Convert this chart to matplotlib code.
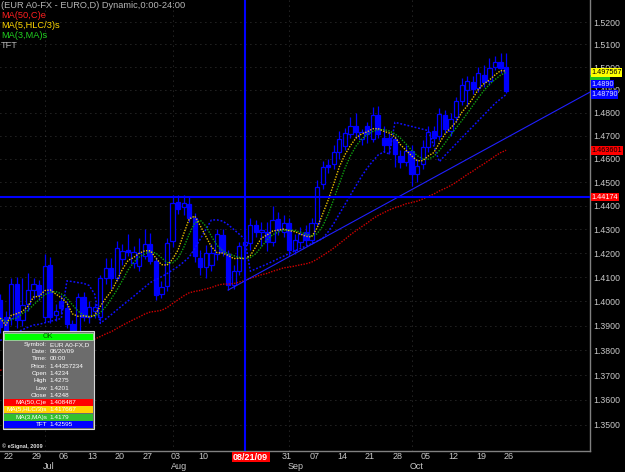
import matplotlib
matplotlib.use('Agg')
import matplotlib.pyplot as plt
import matplotlib.transforms as mtransforms
from matplotlib.patches import Rectangle
from matplotlib.ticker import NullLocator, FixedLocator, FuncFormatter
import numpy as np
import pandas as pd

# daily bars, bar 0 = Mon 22 Jun 2009 (bar -1 is Fri 19 Jun), last = Mon 26 Oct
bar_idx = np.arange(-1, 91)
opens = [1.4007, 1.3937, 1.3930, 1.4072, 1.3923, 1.3990, 1.4049, 1.4068, 1.3937, 1.4149,
         1.3944, 1.4000, 1.3972, 1.3909, 1.3853, 1.4018, 1.3937, 1.3962, 1.3937, 1.4095,
         1.4138, 1.4097, 1.4174, 1.4212, 1.4160, 1.4146, 1.4188, 1.4237, 1.4167, 1.4032,
         1.4063, 1.4251, 1.4416, 1.4393, 1.4409, 1.4349, 1.4181, 1.4144, 1.4149, 1.4195,
         1.4276, 1.4197, 1.4068, 1.4127, 1.4234, 1.4242, 1.4319, 1.4290, 1.4289, 1.4245,
         1.4344, 1.4290, 1.4329, 1.4213, 1.4245, 1.4289, 1.4255, 1.4329, 1.4491, 1.4573,
         1.4577, 1.4628, 1.4657, 1.4708, 1.4741, 1.4686, 1.4741, 1.4686, 1.4790, 1.4690,
         1.4689, 1.4686, 1.4614, 1.4585, 1.4635, 1.4534, 1.4577, 1.4650, 1.4722, 1.4700,
         1.4790, 1.4722, 1.4780, 1.4852, 1.4900, 1.4935, 1.4906, 1.4964, 1.4939, 1.5001,
         1.5023, 1.5001]
highs = [1.4030, 1.3960, 1.4095, 1.4100, 1.4097, 1.4118, 1.4095, 1.4090, 1.4195, 1.4185,
         1.3990, 1.4025, 1.4000, 1.3925, 1.4035, 1.4040, 1.4000, 1.3995, 1.4110, 1.4180,
         1.4180, 1.4251, 1.4240, 1.4280, 1.4230, 1.4265, 1.4300, 1.4285, 1.4185, 1.4085,
         1.4265, 1.4446, 1.4446, 1.4446, 1.4440, 1.4370, 1.4215, 1.4235, 1.4240, 1.4300,
         1.4300, 1.4215, 1.4150, 1.4245, 1.4275, 1.4350, 1.4340, 1.4330, 1.4330, 1.4400,
         1.4375, 1.4360, 1.4350, 1.4280, 1.4310, 1.4320, 1.4350, 1.4510, 1.4590, 1.4600,
         1.4660, 1.4720, 1.4735, 1.4780, 1.4800, 1.4730, 1.4760, 1.4823, 1.4830, 1.4740,
         1.4710, 1.4700, 1.4640, 1.4660, 1.4660, 1.4600, 1.4680, 1.4740, 1.4740, 1.4820,
         1.4810, 1.4800, 1.4870, 1.4950, 1.4960, 1.4960, 1.5000, 1.5010, 1.5040, 1.5050,
         1.5060, 1.5062]
lows = [1.3870, 1.3820, 1.3905, 1.3890, 1.3900, 1.3960, 1.4010, 1.4005, 1.3915, 1.3910,
        1.3920, 1.3950, 1.3890, 1.3820, 1.3830, 1.3920, 1.3910, 1.3930, 1.3920, 1.4070,
        1.4050, 1.4085, 1.4150, 1.4190, 1.4140, 1.4125, 1.4175, 1.4155, 1.4005, 1.4015,
        1.4045, 1.4225, 1.4365, 1.4360, 1.4330, 1.4165, 1.4110, 1.4095, 1.4125, 1.4170,
        1.4190, 1.4047, 1.4050, 1.4110, 1.4201, 1.4215, 1.4270, 1.4230, 1.4210, 1.4230,
        1.4275, 1.4270, 1.4190, 1.4195, 1.4225, 1.4235, 1.4240, 1.4315, 1.4470, 1.4540,
        1.4555, 1.4600, 1.4640, 1.4690, 1.4690, 1.4660, 1.4670, 1.4671, 1.4690, 1.4630,
        1.4620, 1.4563, 1.4560, 1.4570, 1.4483, 1.4500, 1.4555, 1.4630, 1.4660, 1.4680,
        1.4710, 1.4700, 1.4760, 1.4835, 1.4830, 1.4880, 1.4890, 1.4910, 1.4920, 1.4985,
        1.4975, 1.4888]
closes = [1.3895, 1.3839, 1.4072, 1.3923, 1.3986, 1.4049, 1.4072, 1.4028, 1.4146, 1.3937,
          1.3961, 1.3972, 1.3909, 1.3839, 1.4018, 1.3937, 1.3976, 1.3976, 1.4097, 1.4139,
          1.4097, 1.4220, 1.4209, 1.4205, 1.4205, 1.4200, 1.4240, 1.4167, 1.4028, 1.4060,
          1.4244, 1.4411, 1.4386, 1.4411, 1.4349, 1.4188, 1.4144, 1.4199, 1.4202, 1.4279,
          1.4205, 1.4068, 1.4127, 1.4230, 1.4248, 1.4319, 1.4289, 1.4296, 1.4245, 1.4340,
          1.4298, 1.4329, 1.4213, 1.4255, 1.4280, 1.4255, 1.4329, 1.4481, 1.4563, 1.4566,
          1.4628, 1.4686, 1.4710, 1.4744, 1.4715, 1.4715, 1.4708, 1.4790, 1.4708, 1.4660,
          1.4660, 1.4621, 1.4585, 1.4635, 1.4534, 1.4570, 1.4650, 1.4718, 1.4689, 1.4794,
          1.4729, 1.4773, 1.4852, 1.4920, 1.4939, 1.4903, 1.4975, 1.4932, 1.4997, 1.5023,
          1.4994, 1.4896]
tft = [1.3840, 1.3850, 1.3862, 1.3873, 1.3884, 1.3894, 1.3903, 1.3906, 1.3912, 1.3918,
       1.3924, 1.3930, 1.4085, 1.4082, 1.4078, 1.4075, 1.4066, 1.4030, 1.3910, 1.3928,
       1.3946, 1.3965, 1.3984, 1.4002, 1.4021, 1.4040, 1.4059, 1.4078, 1.4090, 1.4102,
       1.4115, 1.4130, 1.4145, 1.4163, 1.4184, 1.4220, 1.4260, 1.4300, 1.4340, 1.4340,
       1.4335, 1.4320, 1.4300, 1.4280, 1.42595, 1.4125, 1.4135, 1.4145, 1.4155, 1.4166,
       1.4177, 1.4188, 1.4199, 1.4210, 1.4220, 1.4230, 1.4240, 1.4250, 1.4262, 1.4290,
       1.4325, 1.4365, 1.4405, 1.4445, 1.4485, 1.4525, 1.4560, 1.4590, 1.4617, 1.4630,
       1.4621, 1.4758, 1.4752, 1.4746, 1.4740, 1.4734, 1.4728, 1.4722, 1.4655, 1.4588,
       1.4615, 1.4640, 1.4665, 1.4690, 1.4715, 1.4740, 1.4765, 1.4790, 1.4815, 1.4840,
       1.4860, 1.4879]
ema_seed = 1.3712

week_ticks = list(range(0, 91, 5))
week_labels = ['22', '29', '06', '13', '20', '27', '03', '10', '17', '24',
               '31', '07', '14', '21', '28', '05', '12', '19', '26']
month_ticks = [7, 30, 51, 73]
month_labels = ['Jul', 'Aug', 'Sep', 'Oct']
price_ticks = np.round(np.arange(1.35, 1.5201, 0.01), 2)

cursor_bar = 43
cursor_price = 1.44357234
cursor_tag = '08/21/09'
trend_x = [40, 105.1]
trend_y = [1.4047, 1.4890]

legend_lines = [('(EUR A0-FX - EURO,D) Dynamic,0:00-24:00', '#b4b4b4'),
                ('MA(50,C)e', '#ff2020'),
                ('MA(5,HLC/3)s', '#ffd700'),
                ('MA(3,MA)s', '#20d020'),
                ('TFT', '#b4b4b4')]
info_rows = [('Symbol:', 'EUR A0-FX,D'), ('Date:', '08/20/09'), ('Time:', '00:00'),
             ('Price:', '1.44357234'), ('Open', '1.4234'), ('High', '1.4275'),
             ('Low', '1.4201'), ('Close', '1.4248')]
info_bars = [('MA(50,C)e', '1.408487', '#ff0000'),
             ('MA(5,HLC/3)s', '1.417667', '#ffd200'),
             ('MA(3,MA)s', '1.4179', '#30c030'),
             ('TFT', '1.42595', '#0000ff')]
# (text, price, box colour, text colour, shift in px)
axis_tags = [('1.497567', 1.497567, '#ffff00', '#000000', 0),
             ('1.4890', 1.4890, '#0000ff', '#e0e0ff', 8),
             ('1.48790', 1.4879, '#0000ff', '#e0e0ff', 0),
             ('1.463601', 1.463601, '#ff0000', '#000000', 0),
             ('1.44174', cursor_price, '#ff0000', '#ffffff', 0)]
ma3_tag_price = 1.4955

BLUE = '#0000ff'
W, H = 625, 472

plt.rcParams['font.family'] = ['Liberation Sans', 'DejaVu Sans']

o = np.array(opens); h = np.array(highs); l = np.array(lows); c = np.array(closes)

# indicators computed from the bars
ema = []
e = ema_seed
for v in c:
    e = e + 2.0 / 51 * (v - e)
    ema.append(e)
typ = pd.Series((h + l + c) / 3)
ma5 = typ.rolling(5, min_periods=1).mean()
ma3 = ma5.rolling(3, min_periods=1).mean()


def fpx(x, y):
    # figure pixel -> figure fraction
    return x / W, 1 - y / H


def bar_px(i):
    # bar index -> figure pixel x
    return 5.7 + 5.56 * i


fig = plt.figure(figsize=(W / 100, H / 100), dpi=100, facecolor='black')
ax = fig.add_axes([0, 21 / H, 590 / W, 451 / H], facecolor='black')
ax.set_yscale('log')
ax.set_ylim(1.3397, 1.5299)
ax.set_xlim(-1.03, 105.09)

# grid
for p in price_ticks:
    ax.axhline(p, color='#4a4a4a', lw=0.6, ls=(0, (1, 5)), zorder=0)
for m in month_ticks:
    ax.axvline(m, color='#4a4a4a', lw=0.6, ls=(0, (1, 5)), zorder=0)

# candles
up = c >= o
top = np.maximum(o, c)
bot = np.minimum(o, c)
ax.vlines(bar_idx, top, h, color=BLUE, lw=0.9, zorder=2)
ax.vlines(bar_idx, l, bot, color=BLUE, lw=0.9, zorder=2)
body = np.maximum(top - bot, 0.00025)
ax.bar(bar_idx[up], body[up], bottom=bot[up], width=0.76, facecolor='black',
       edgecolor=BLUE, linewidth=0.9, zorder=2)
ax.bar(bar_idx[~up], body[~up], bottom=bot[~up], width=0.76, facecolor=BLUE,
       edgecolor=BLUE, linewidth=0.9, zorder=2)

# indicators
ax.plot(bar_idx, ema, color='#d00000', lw=1.0, ls=(0, (1, 1)), zorder=3)
ax.plot(bar_idx, tft, color='#1010ff', lw=1.1, ls=(0, (1.2, 1.2)), zorder=3)
ax.plot(bar_idx, ma3, color='#10a010', lw=1.0, ls=(0, (1, 1)), zorder=3)
ax.plot(bar_idx, ma5, color='#e8c000', lw=1.0, ls=(0, (1, 1)), zorder=3)
ax.plot(trend_x, trend_y, color='#2020ff', lw=0.8, zorder=3)

# crosshair
ax.axvline(cursor_bar, color=BLUE, lw=1.5, zorder=4)
ax.axhline(cursor_price, color=BLUE, lw=1.5, zorder=4)

# frame
for side in ['top', 'left']:
    ax.spines[side].set_visible(False)
for side in ['right', 'bottom']:
    ax.spines[side].set_color('#808080')
    ax.spines[side].set_linewidth(1.0)

# price axis
ax.yaxis.tick_right()
ax.yaxis.set_major_locator(FixedLocator(price_ticks))
ax.yaxis.set_minor_locator(NullLocator())
ax.yaxis.set_major_formatter(FuncFormatter(lambda v, pos: '%.4f' % v))
ax.tick_params(axis='y', length=0, pad=2.2, labelsize=6.3, labelcolor='#c8c8c8')
ax.set_xticks([])

# MA(3) tag sits under the MA(5) tag, only its lower edge shows
ax.add_patch(Rectangle((1.0, ma3_tag_price - 0.0012), 0.034, 0.0024,
                       transform=ax.get_yaxis_transform(), fc='#20c020', ec='none',
                       clip_on=False, zorder=5))
for txt, p, fc, tc, dy in axis_tags:
    tr = mtransforms.offset_copy(ax.get_yaxis_transform(), fig=fig, x=1.0, y=dy * 0.72,
                                 units='points')
    ax.text(1.0, p, txt, transform=tr, ha='left', va='center', fontsize=5.2,
            color=tc, clip_on=False, zorder=6,
            bbox=dict(boxstyle='square,pad=0.08', fc=fc, ec='none'))

# cursor date tag
tag_l, tag_r = 231.5, 269.5
x0, y0 = fpx(tag_l, 462)
fig.add_artist(Rectangle((x0, y0), (tag_r - tag_l) / W, 10 / H, transform=fig.transFigure,
                         fc='#ff0000', ec='none', zorder=5))
fig.text(*fpx((tag_l + tag_r) / 2, 457), cursor_tag, ha='center', va='center',
         fontsize=6.5, fontweight='bold', color='white', zorder=6)

# date axis (labels under the cursor tag are hidden, as in the chart)
xt = ax.get_xaxis_transform()
for t, lab in zip(week_ticks, week_labels):
    if tag_l - 8 < bar_px(t + 0.5) < tag_r + 8:
        continue
    ax.text(t + 0.5, -5.7 / 451, lab, transform=xt, ha='center', va='center',
            fontsize=6.5, color='#c8c8c8', clip_on=False)
for t, lab in zip(month_ticks, month_labels):
    ax.text(t - 0.3, -15.7 / 451, lab, transform=xt, ha='left', va='center',
            fontsize=6.5, color='#c8c8c8', clip_on=False)

# legend text, top left
for k, (txt, col) in enumerate(legend_lines):
    fig.text(*fpx(1, 6 + 9.9 * k), txt, ha='left', va='center', fontsize=6.7,
             color=col, zorder=6)

fig.text(*fpx(2, 446.5), '\u00a9 eSignal, 2009', ha='left', va='center', fontsize=4,
         fontweight='bold', color='#e0e0e0', zorder=6)

# cursor info window
bx, by = fpx(2.5, 429)
fig.add_artist(Rectangle((bx, by), 91.5 / W, 98 / H, transform=fig.transFigure,
                         fc='#6c6c6c', ec='#d8d8d8', lw=0.8, zorder=5))
gx, gy = fpx(4, 339.5)
fig.add_artist(Rectangle((gx, gy), 88.5 / W, 7 / H, transform=fig.transFigure,
                         fc='#00ff00', ec='#e0e0e0', lw=0.4, zorder=6))
fig.text(*fpx(48, 336), 'OK', ha='center', va='center', fontsize=5.2,
         color='#006000', zorder=7)
for k, (lab, val) in enumerate(info_rows):
    yy = 344.3 + 7.3 * k
    fig.text(*fpx(47, yy), lab, ha='right', va='center', fontsize=4.6,
             color='white', zorder=7)
    fig.text(*fpx(49.5, yy), val, ha='left', va='center', fontsize=4.6,
             color='white', zorder=7)
for k, (lab, val, col) in enumerate(info_bars):
    ytop = 399 + 7.4 * k
    rx, ry = fpx(4, ytop + 6.8)
    fig.add_artist(Rectangle((rx, ry), 88.5 / W, 6.8 / H, transform=fig.transFigure,
                             fc=col, ec='none', zorder=6))
    fig.text(*fpx(47, ytop + 3.4), lab, ha='right', va='center', fontsize=4.6,
             color='white', zorder=7)
    fig.text(*fpx(49.5, ytop + 3.4), val, ha='left', va='center', fontsize=4.6,
             color='white', zorder=7)

fig.savefig('out.png', dpi=100, facecolor='black')
